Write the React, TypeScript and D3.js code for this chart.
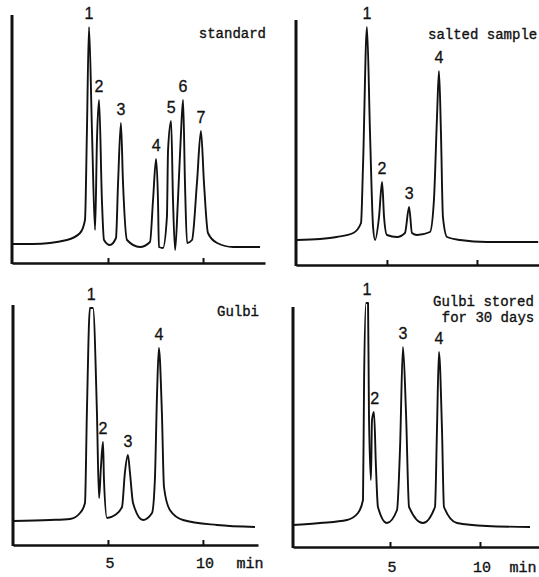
import React, { useEffect, useRef } from 'react';
import * as d3 from 'd3';

// retention time (min) / detector response
const stdTime = [0, 1.05, 2.84, 3.53, 3.79, 3.89, 4.0, 4.16, 4.32, 4.42, 4.53, 4.68, 4.79, 5.1, 5.42, 5.53, 5.68, 5.79, 6.0, 6.68, 7.21, 7.37, 7.53, 7.63, 7.68, 7.89, 8.1, 8.16, 8.32, 8.42, 8.53, 8.68, 8.84, 8.95, 9.05, 9.16, 9.42, 9.68, 9.89, 10.05, 10.26, 10.74, 11.58, 13.0];
const stdSignal = [19, 19, 23, 30, 43, 130, 236, 130, 33, 123, 163, 63, 23, 18, 25, 80, 140, 80, 23, 16, 21, 63, 104, 63, 16, 15, 46, 113, 142, 63, 13, 63, 130, 163, 80, 20, 23, 80, 132, 80, 30, 20, 16, 16];
const stdPeakTime = [4.0, 4.53, 5.68, 7.53, 8.32, 8.95, 9.89];
const stdPeakHeight = [236, 163, 140, 104, 142, 163, 132];

const saltTime = [0, 1.28, 2.21, 3.13, 3.56, 3.67, 3.89, 4.06, 4.23, 4.34, 4.56, 4.73, 4.84, 5.0, 5.56, 6.0, 6.23, 6.39, 6.67, 7.39, 7.61, 7.78, 7.89, 8.0, 8.11, 8.34, 9.06, 10.56, 13.4];
const saltSignal = [25, 26, 28, 32, 42, 98, 238, 132, 38, 25, 48, 83, 48, 30, 28, 32, 58, 32, 30, 33, 65, 148, 194, 132, 48, 28, 25, 23, 23];
const saltPeakTime = [3.89, 4.73, 6.23, 7.89];
const saltPeakHeight = [238, 83, 58, 194];

const gulbiTime = [0, 1.95, 3.0, 3.53, 3.79, 3.89, 4.05, 4.21, 4.42, 4.53, 4.63, 4.74, 4.79, 4.95, 5.37, 5.74, 5.89, 6.05, 6.16, 6.32, 6.84, 7.32, 7.47, 7.58, 7.68, 7.84, 7.95, 8.26, 8.95, 10.74, 12.74];
const gulbiSignal = [24, 25, 26, 32, 42, 132, 237, 237, 132, 47, 78, 103, 65, 27, 30, 38, 72, 90, 72, 42, 25, 32, 65, 148, 197, 132, 58, 35, 25, 20, 18];
const gulbiPeakTime = [4.12, 4.74, 6.05, 7.68];
const gulbiPeakHeight = [237, 103, 90, 197];

const storedTime = [-0.39, 1.11, 2.61, 3.22, 3.5, 3.56, 3.67, 3.78, 3.83, 3.94, 4.0, 4.11, 4.22, 4.33, 4.83, 5.39, 5.56, 5.72, 5.89, 6.06, 6.83, 7.5, 7.61, 7.72, 7.89, 8.0, 8.72, 10.39, 12.78];
const storedSignal = [22, 24, 27, 34, 47, 167, 244, 244, 134, 67, 127, 135, 80, 40, 24, 37, 100, 200, 134, 40, 24, 40, 117, 195, 117, 40, 24, 21, 20];
const storedPeakTime = [3.72, 4.15, 5.72, 7.72];
const storedPeakHeight = [244, 135, 200, 195];

const peakLabels = ['1', '2', '3', '4', '5', '6', '7'];
const tickValues = [5, 10];

const panels = [
  { time: stdTime, signal: stdSignal, peakTime: stdPeakTime, peakHeight: stdPeakHeight,
    xd: [-0.05, 13.26], xr: [12, 265], yd: [0, 248], yr: [263, 15], labels: false,
    title: [{ text: 'standard', x: 266, y: 38, anchor: 'end' }] },
  { time: saltTime, signal: saltSignal, peakTime: saltPeakTime, peakHeight: saltPeakHeight,
    xd: [-0.05, 13.5], xr: [296, 540], yd: [0, 245], yr: [265, 20], labels: false,
    title: [{ text: 'salted sample', x: 428, y: 39, anchor: 'start' }] },
  { time: gulbiTime, signal: gulbiSignal, peakTime: gulbiPeakTime, peakHeight: gulbiPeakHeight,
    xd: [0, 12.9], xr: [13, 258], yd: [0, 240], yr: [545, 305], labels: true, minX: 250, labelY: 568,
    title: [{ text: 'Gulbi', x: 259, y: 316, anchor: 'end' }] },
  { time: storedTime, signal: storedSignal, peakTime: storedPeakTime, peakHeight: storedPeakHeight,
    xd: [-0.39, 13.28], xr: [293, 539], yd: [0, 240], yr: [547, 307], labels: true, minX: 523, labelY: 572,
    title: [{ text: 'Gulbi stored', x: 433, y: 306, anchor: 'start' },
            { text: 'for 30 days', x: 488, y: 322, anchor: 'middle' }] },
];

const Chromatograms = () => {
  const svgRef = useRef<SVGSVGElement>(null);

  useEffect(() => {
    const svg = d3.select(svgRef.current);
    svg.selectAll('*').remove();
    svg.attr('width', 539).attr('height', 577);

    panels.forEach((p) => {
      const x = d3.scaleLinear().domain(p.xd).range(p.xr);
      const y = d3.scaleLinear().domain(p.yd).range(p.yr);
      const g = svg.append('g');

      const pts = p.time.map((t, i) => [t, p.signal[i]] as [number, number]);
      const line = d3.line<[number, number]>()
        .x(d => x(d[0]))
        .y(d => y(d[1]))
        .curve(d3.curveMonotoneX);

      g.append('path')
        .datum(pts)
        .attr('fill', 'none')
        .attr('stroke', '#111')
        .attr('stroke-width', 1.9)
        .attr('stroke-linejoin', 'round')
        .attr('d', line);

      // y axis, no ticks
      g.append('line')
        .attr('x1', p.xr[0]).attr('x2', p.xr[0])
        .attr('y1', p.yr[1]).attr('y2', p.yr[0] + 1)
        .attr('stroke', '#111')
        .attr('stroke-width', 3);

      const axis = g.append('g')
        .attr('transform', `translate(0,${p.yr[0]})`)
        .call(d3.axisBottom(x)
          .tickValues(tickValues)
          .tickSizeInner(-5)
          .tickSizeOuter(0)
          .tickFormat(() => ''));
      axis.select('.domain').attr('stroke', '#111').attr('stroke-width', 2.4);
      axis.selectAll('.tick line').attr('stroke', '#111').attr('stroke-width', 2);
      axis.selectAll('.tick text').remove();

      const mono = (sel: any, size: string) => sel
        .style('font-family', 'Liberation Mono')
        .style('font-size', size)
        .style('fill', '#111')
        .style('stroke', '#111')
        .style('stroke-width', 0.35);

      if (p.labels) {
        tickValues.forEach(v => {
          mono(g.append('text')
            .attr('x', x(v) + 2)
            .attr('y', p.labelY)
            .attr('text-anchor', 'middle'), '15px')
            .text(v);
        });
        mono(g.append('text')
          .attr('x', p.minX)
          .attr('y', p.labelY)
          .attr('text-anchor', 'middle'), '15px')
          .text('min');
      }

      p.peakTime.forEach((t, i) => {
        g.append('text')
          .attr('x', x(t))
          .attr('y', y(p.peakHeight[i]) - 8)
          .attr('text-anchor', 'middle')
          .style('font-family', 'Liberation Sans')
          .style('font-size', '16px')
          .style('fill', '#111')
          .style('stroke', '#111')
          .style('stroke-width', 0.3)
          .text(peakLabels[i]);
      });

      p.title.forEach(tt => {
        mono(g.append('text')
          .attr('x', tt.x)
          .attr('y', tt.y)
          .attr('text-anchor', tt.anchor), '14px')
          .text(tt.text);
      });
    });
  }, []);

  return (
    <svg ref={svgRef} style={{ position: 'absolute', left: 0, top: 0, background: '#fff' }}></svg>
  );
};

export default function App() {
  return <Chromatograms />;
}
